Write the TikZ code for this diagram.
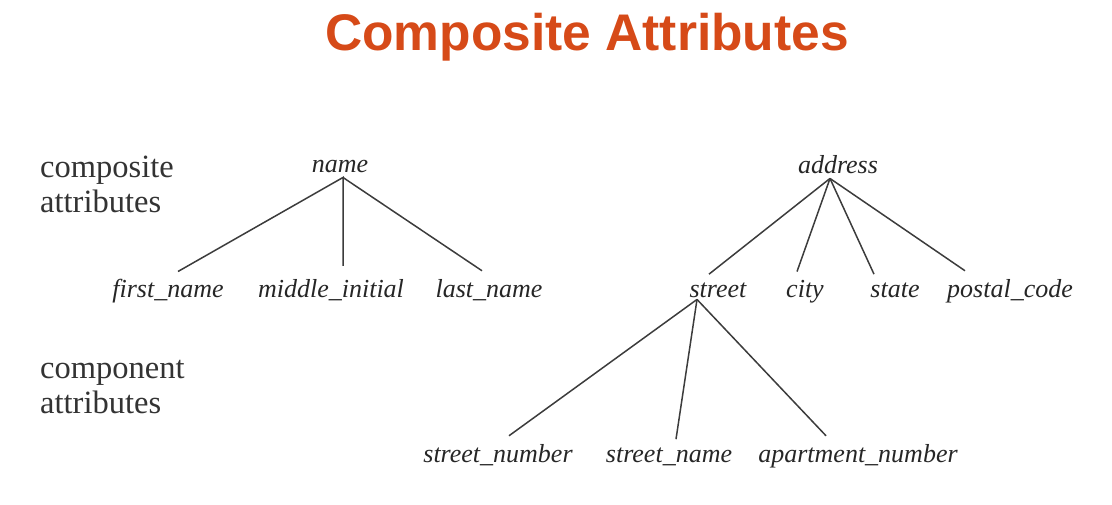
\documentclass[tikz,border=0pt]{standalone}
\usepackage{fontspec}
\setmainfont{Liberation Serif}
\setsansfont{Liberation Sans}
\usetikzlibrary{positioning,calc}
\definecolor{titlered}{RGB}{214,74,24}
\definecolor{linegray}{RGB}{60,60,60}

\begin{document}
\begin{tikzpicture}[x=1pt,y=-1pt,
  attr/.style={font=\fontsize{26}{29}\selectfont\itshape, anchor=base, inner sep=5pt, text=black!85},
  side/.style={font=\fontsize{32.5}{36}\selectfont, anchor=base west, inner sep=0pt, text=black!80},
  link/.style={draw=linegray, line width=1.5pt}]
\useasboundingbox (0,0) rectangle (1112,504);
% Title
\node[anchor=base, inner sep=0pt, text=titlered, font=\fontsize{51.5}{56}\sffamily\bfseries] (title) at (587,50) {Composite Attributes};
% Side labels
\node[side] (comp1) at (40,177) {composite};
\node[side] (comp2) at (40,212) {attributes};
\node[side] (part1) at (40,378) {component};
\node[side] (part2) at (40,413) {attributes};
% name
\node[attr] (name) at (340,172) {name};
\node[attr] (first) at (168,297) {first\_name};
\node[attr] (middle) at (331,297) {middle\_initial};
\node[attr] (last) at (489,297) {last\_name};
% address
\node[attr] (address) at (838,173) {address};
\node[attr] (street) at (718,297) {street};
\node[attr] (city) at (805,297) {city};
\node[attr] (state) at (895,297) {state};
\node[attr] (postal) at (1010,297) {postal\_code};
% street
\node[attr] (stnum) at (498,462) {street\_number};
\node[attr] (stname) at (669,462) {street\_name};
\node[attr] (apt) at (858,462) {apartment\_number};
% Links
\draw[link] ([xshift=10pt,yshift=2pt]first.north) -- ([xshift=3pt]name.south) -- ([xshift=12pt,yshift=8pt]middle.north);
\draw[link] ([xshift=3pt]name.south) -- ([xshift=-7pt,yshift=3pt]last.north);
\foreach \c/\dx in {street/-9,city/-8,state/-21,postal/-45}
  \draw[link] ([xshift=-8pt]address.south) -- ([xshift=\dx pt,yshift=3pt]\c.north);
\foreach \c/\dx in {stnum/11,stname/7,apt/-32}
  \draw[link] ([xshift=-21pt,yshift=3pt]street.south) -- ([xshift=\dx pt,yshift=3pt]\c.north);
\end{tikzpicture}
\end{document}
